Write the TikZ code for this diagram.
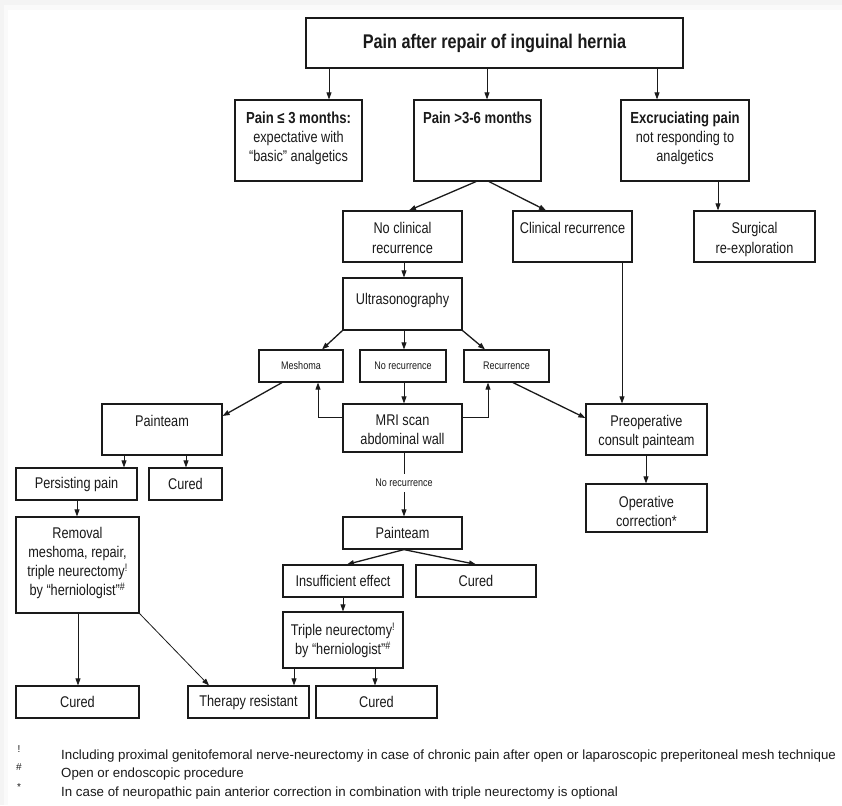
\documentclass[tikz,border=0pt]{standalone}
\usepackage{fontspec}
\setmainfont{Liberation Sans}
\newfontfamily\narrowfont[FakeStretch=0.82]{Liberation Sans}
\usetikzlibrary{arrows.meta}
\definecolor{ink}{HTML}{1A1A1A}
\tikzset{
  box/.style={draw=ink, line width=1.2pt, inner sep=0pt},
  txt/.style={font=\narrowfont\fontsize{15.5}{19.2}\selectfont, align=center, inner sep=0pt, text=ink},
  small/.style={font=\narrowfont\fontsize{11}{13}\selectfont, align=center, inner sep=0pt, text=ink},
  ar/.style={-{Triangle[length=7pt,width=5pt]}, line width=0.8pt, draw=ink},
  ard/.style={ar, line width=1.3pt},
  foot/.style={font=\fontsize{13.3}{16}\selectfont, anchor=west, inner sep=0pt, text=ink},
  fsym/.style={font=\fontsize{10}{10}\selectfont, inner sep=0pt, text=ink},
}
\newcommand\bxt[7]{%
  \node[box, minimum width={#4-#2}, minimum height={#5-#3}] (#1) at ({(#2+#4)/2},{(#3+#5)/2}) {};
  \node[txt, anchor=north] (#1-t) at ([yshift=-#6pt]#1.north) {#7};}
\newcommand\bxc[7][txt]{%
  \node[box, #1, minimum width={#5-#3}, minimum height={#6-#4}] (#2) at ({(#3+#5)/2},{(#4+#6)/2}) {#7};}
\newcommand\hd[1]{{\bfseries\fontsize{16}{19.2}\selectfont #1}}
\begin{document}
\begin{tikzpicture}[x=1pt,y=-1pt]
\useasboundingbox (0,0) rectangle (842,805);
\fill[gray!9] (0,0) rectangle (842,805);
\fill[gray!4] (4,5) rectangle (842,805);
\fill[white] (8,10) rectangle (842,805);

% title
\node[box, minimum width=377, minimum height=50, font=\narrowfont\bfseries\fontsize{19.8}{23}\selectfont, text=ink] (title) at (494.5,43) {Pain after repair of inguinal hernia};

% row 1
\bxt{b1}{235}{100}{362}{181}{12}{\hd{Pain ≤ 3 months:}\\expectative with\\“basic” analgetics}
\bxt{b2}{414}{100}{541}{181}{12}{\hd{Pain >3-6 months}}
\bxt{b3}{621}{100}{749}{181}{12}{\hd{Excruciating pain}\\not responding to\\analgetics}

% row 2
\bxt{nc}{343}{211}{462}{262}{12}{No clinical\\recurrence}
\bxt{cr}{513}{211}{632}{262}{12}{Clinical recurrence}
\bxt{se}{694}{211}{815}{262}{12}{Surgical\\re-exploration}

\bxt{us}{343}{278}{462}{330}{16}{Ultrasonography}

\bxc[small]{me}{259}{350}{343}{382}{Meshoma}
\bxc[small]{nr}{360}{350}{446}{382}{No recurrence}
\bxc[small]{re}{464}{350}{549}{382}{Recurrence}

\bxt{pt1}{102}{404}{222}{455}{11.5}{Painteam}
\bxt{mri}{343}{404}{462}{452}{11.5}{MRI scan\\abdominal wall}
\bxt{pre}{586}{404}{707}{455}{11.5}{Preoperative\\consult painteam}

\bxc{pp}{16}{468}{137}{500}{Persisting pain}
\bxc{cu1}{149}{468}{222}{500}{Cured}
\bxt{op}{586}{484}{707}{532}{12.5}{Operative\\correction*}

\node[small, inner ysep=5pt] (nrl) at (404,483) {No recurrence};

\bxt{rm}{16}{517}{139}{613}{10.5}{Removal\\meshoma, repair,\\triple neurectomy\textsuperscript{!}\\by “herniologist”\textsuperscript{\#}}
\bxc{pt2}{343}{517}{462}{549}{Painteam}
\bxc{ie}{283}{565}{403}{597}{Insufficient effect}
\bxc{cu2}{416}{565}{536}{597}{Cured}
\bxt{tn}{283}{612}{403}{668}{11.5}{Triple neurectomy\textsuperscript{!}\\by “herniologist”\textsuperscript{\#}}

\bxc{cu3}{16}{686}{139}{718}{Cured}
\bxc{tr}{188}{686}{309}{718}{Therapy resistant}
\bxc{cu4}{316}{686}{437}{718}{Cured}

% connectors
\draw[ar] (329,0 |- title.south) -- (329,0 |- b1.north);
\draw[ar] (487,0 |- title.south) -- (487,0 |- b2.north);
\draw[ar] (657,0 |- title.south) -- (657,0 |- b3.north);
\draw[ard] (476,0 |- b2.south) -- (409,0 |- nc.north);
\draw[ard] (489,0 |- b2.south) -- (546,0 |- cr.north);
\draw[ar] (718,0 |- b3.south) -- (718,0 |- se.north);
\draw[ar] (404,0 |- nc.south) -- (404,0 |- us.north);
\draw[ard] (us.south west) -- (322,0 |- me.north);
\draw[ar] (404,0 |- us.south) -- (404,0 |- nr.north);
\draw[ard] (us.south east) -- (485,0 |- re.north);
\draw[ar] (404,0 |- nr.south) -- (404,0 |- mri.north);
\draw[ar] (mri.west |- 0,417) -| (318,0 |- me.south);
\draw[ar] (mri.east |- 0,417) -| (488,0 |- re.south);
\draw[ard] (282,0 |- me.south) -- (pt1.east |- 0,416);
\draw[ard] (513,0 |- re.south) -- (pre.west |- 0,418);
\draw[ar] (622,0 |- cr.south) -- (622,0 |- pre.north);
\draw[ar] (646,0 |- pre.south) -- (646,0 |- op.north);
\draw[ar] (124,0 |- pt1.south) -- (124,0 |- pp.north);
\draw[ar] (186,0 |- pt1.south) -- (186,0 |- cu1.north);
\draw[ar] (77,0 |- pp.south) -- (77,0 |- rm.north);
\draw[ar] (78,0 |- rm.south) -- (78,0 |- cu3.north);
\draw[ar] (rm.south east) -- (209,0 |- tr.north);
\draw[line width=0.8pt, draw=ink] (404,0 |- mri.south) -- (404,0 |- nrl.north);
\draw[ar] (404,0 |- nrl.south) -- (404,0 |- pt2.north);
\draw[ard] (404,0 |- pt2.south) -- (347,0 |- ie.north);
\draw[ard] (404,0 |- pt2.south) -- (476,0 |- cu2.north);
\draw[ar] (343,0 |- ie.south) -- (343,0 |- tn.north);
\draw[ar] (294,0 |- tn.south) -- (294,0 |- tr.north);
\draw[ar] (375,0 |- tn.south) -- (375,0 |- cu4.north);

% footnotes
\node[fsym] (s1) at (19,749) {!};
\node[fsym] (s2) at (19,767) {\#};
\node[fsym] (s3) at (19,787) {*};
\node[foot] (f1) at (61,756) {Including proximal genitofemoral nerve-neurectomy in case of chronic pain after open or laparoscopic preperitoneal mesh technique};
\node[foot] (f2) at (61,774) {Open or endoscopic procedure};
\node[foot] (f3) at (61,793) {In case of neuropathic pain anterior correction in combination with triple neurectomy is optional};
\end{tikzpicture}
\end{document}
